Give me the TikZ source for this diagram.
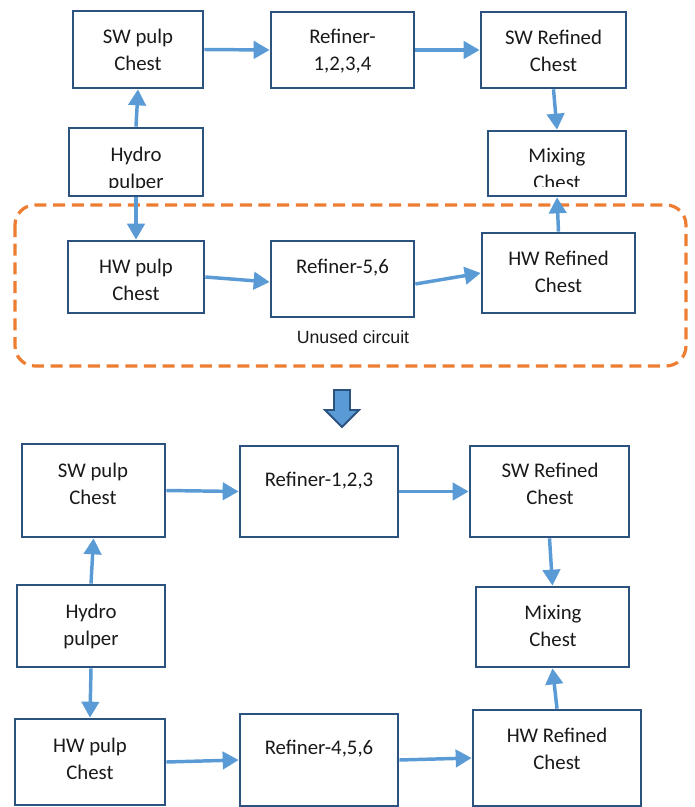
\documentclass[tikz,border=0pt]{standalone}
\usepackage{fontspec}
\setmainfont{Carlito}
\newfontfamily\arialfont{Liberation Sans}
\usetikzlibrary{arrows.meta}

\definecolor{boxblue}{RGB}{44,82,128}
\definecolor{flowblue}{RGB}{91,155,213}
\definecolor{dashorange}{RGB}{237,125,49}

\tikzset{every picture/.style={line width=0.75pt}}
\tikzset{
  chest/.style={draw=boxblue, line width=2pt, inner sep=0pt},
  flow/.style={draw=flowblue, line width=2.6pt, -{Triangle[length=12pt,width=13pt]}},
  lbl/.style={font=\fontsize{15.6}{20.25}\selectfont, align=center, inner sep=0pt, text=black!90},
}

\begin{document}
\begin{tikzpicture}[x=0.75pt,y=0.75pt,yscale=-1,xscale=1]
	\useasboundingbox (0,0) rectangle (694,807);

	%Shape: Rounded Rect (unused circuit)
	\draw [dashorange, line width=2.4pt, dash pattern=on 9pt off 5pt, rounded corners=15pt] (15,205) rectangle (686,366);

	%Shape: Rectangle
	\node (swp1) [chest, minimum width=97.5pt, minimum height=57.75pt] at (138,49.5) {};
	%Shape: Rectangle
	\node (ref1) [chest, minimum width=107.25pt, minimum height=57pt] at (342.5,50) {};
	%Shape: Rectangle
	\node (swr1) [chest, minimum width=108.75pt, minimum height=57pt] at (553.5,50) {};
	%Shape: Rectangle
	\node (mix1) [chest, minimum width=103.5pt, minimum height=48.75pt] at (557,163.5) {};
	%Shape: Rectangle
	\node (hyd1) [chest, minimum width=100.5pt, minimum height=51pt] at (136,162) {};
	%Shape: Rectangle
	\node (hwp1) [chest, minimum width=102pt, minimum height=54pt] at (136,277) {};
	%Shape: Rectangle
	\node (ref2) [chest, minimum width=107.25pt, minimum height=57pt] at (342.5,279) {};
	%Shape: Rectangle
	\node (hwr1) [chest, minimum width=114.75pt, minimum height=60pt] at (558.5,273) {};

	%Shape: Rectangle
	\node (swp2) [chest, minimum width=107.25pt, minimum height=69.75pt] at (93.5,490.5) {};
	%Shape: Rectangle
	\node (ref3) [chest, minimum width=118.5pt, minimum height=68.25pt] at (319,491.5) {};
	%Shape: Rectangle
	\node (swr2) [chest, minimum width=119.25pt, minimum height=68.25pt] at (549.5,491.5) {};
	%Shape: Rectangle
	\node (hyd2) [chest, minimum width=111pt, minimum height=61.5pt] at (91,626) {};
	%Shape: Rectangle
	\node (mix2) [chest, minimum width=114.75pt, minimum height=60pt] at (552.5,627) {};
	%Shape: Rectangle
	\node (hwp2) [chest, minimum width=112.5pt, minimum height=64.5pt] at (90,762) {};
	%Shape: Rectangle
	\node (ref4) [chest, minimum width=118.5pt, minimum height=69pt] at (319,760) {};
	%Shape: Rectangle
	\node (hwr2) [chest, minimum width=126pt, minimum height=72pt] at (557,758) {};

	%Straight Lines
	\draw [flow] (swp1.east) -- (ref1.west);
	\draw [flow] (ref1.east) -- (swr1.west);
	\draw [flow] (swr1.south) -- (mix1.north);
	\draw [flow] (hyd1.north) -- (swp1.south);
	\draw [flow] (hyd1.south) -- (hwp1.north);
	\draw [flow] (hwp1.east) -- ([yshift=2.25pt]ref2.west);
	\draw [flow] ([yshift=3.75pt]ref2.east) -- (hwr1.west);
	\draw [flow] (hwr1.north) -- (mix1.south);

	%Straight Lines
	\draw [flow] (swp2.east) -- (ref3.west);
	\draw [flow] (ref3.east) -- (swr2.west);
	\draw [flow] (swr2.south) -- (mix2.north);
	\draw [flow] (hyd2.north) -- (swp2.south);
	\draw [flow] (hyd2.south) -- (hwp2.north);
	\draw [flow] (hwp2.east) -- (ref4.west);
	\draw [flow] (ref4.east) -- (hwr2.west);
	\draw [flow] (hwr2.north) -- (mix2.south);

	%Shape: Down Arrow
	\draw [boxblue, fill=flowblue, line width=1.4pt, line join=miter] (334,390) -- (350,390) -- (350,410) -- (359,410) -- (342,427) -- (325,410) -- (334,410) -- cycle;

	% Text Node
	\node (swp1t) [lbl] at (138,49.5) {SW pulp\\Chest};
	% Text Node
	\node (ref1t) [lbl] at (342.5,51) {Refiner-\\1,2,3,4};
	% Text Node
	\node (swr1t) [lbl] at (553.5,51) {SW Refined\\Chest};
	% Text Node
	\begin{scope}
		\clip (480,135) rectangle (630,186);
		\node (mix1t) [lbl] at (557,168.5) {Mixing\\Chest};
	\end{scope}
	% Text Node
	\begin{scope}
		\clip (60,135) rectangle (210,187);
		\node (hyd1t) [lbl] at (136,169.5) {Hydro\\pulper};
	\end{scope}
	% Text Node
	\node (hwp1t) [lbl] at (136,280) {HW pulp\\Chest};
	% Text Node
	\node (ref2t) [lbl] at (342.5,268) {Refiner-5,6};
	% Text Node
	\node (hwr1t) [lbl] at (558.5,272) {HW Refined\\Chest};
	% Text Node
	\node (unused) [font=\arialfont\fontsize{13.3}{16}\selectfont, text=black!90] at (353,337) {Unused circuit};

	% Text Node
	\node (swp2t) [lbl] at (93,483.5) {SW pulp\\Chest};
	% Text Node
	\node (ref3t) [lbl] at (319,481) {Refiner-1,2,3};
	% Text Node
	\node (swr2t) [lbl] at (550,484) {SW Refined\\Chest};
	% Text Node
	\node (hyd2t) [lbl] at (91,626.5) {Hydro\\pulper};
	% Text Node
	\node (mix2t) [lbl] at (553,626) {Mixing\\Chest};
	% Text Node
	\node (hwp2t) [lbl] at (90,758.5) {HW pulp\\Chest};
	% Text Node
	\node (ref4t) [lbl] at (319,749) {Refiner-4,5,6};
	% Text Node
	\node (hwr2t) [lbl] at (557,748.5) {HW Refined\\Chest};

\end{tikzpicture}
\end{document}
